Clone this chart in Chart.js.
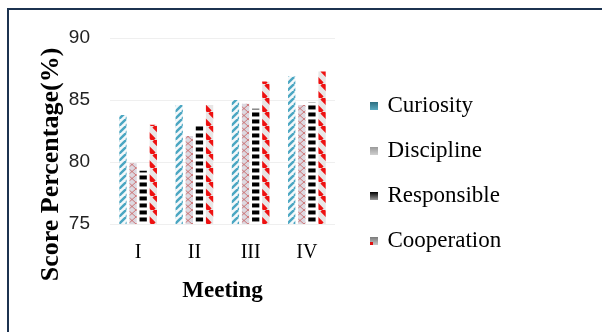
<!DOCTYPE html>
<html>
<head>
<meta charset="utf-8">
<script src="https://cdn.jsdelivr.net/npm/chart.js"></script>
<style>
  body { margin: 0; background: #fff; }
  #wrap { position: relative; width: 602px; height: 332px; overflow: hidden; }
  #frame { position: absolute; left: 7px; top: 8px; width: 620px; height: 340px;
           border-top: 2px solid #1c3350; border-left: 2px solid #1c3350; }
  #chart { position: absolute; left: 0; top: 0; }
</style>
</head>
<body>
<div id="wrap">
  <div id="frame"></div>
  <canvas id="chart" width="602" height="332"></canvas>
</div>
<script>
const categories = ['I', 'II', 'III', 'IV'];
const curiosity = [83.8, 84.6, 85.0, 86.9];
const discipline = [79.9, 82.1, 84.7, 84.6];
const responsible = [79.3, 82.9, 84.3, 84.8];
const cooperation = [83.0, 84.6, 86.5, 87.3];
const yTicks = [75, 80, 85, 90];

Chart.defaults.font.family = '"Liberation Serif", "Times New Roman", serif';

// little tiles used as bar fills
function tile(w, h, draw) {
  const c = document.createElement('canvas');
  c.width = w; c.height = h;
  draw(c.getContext('2d'), w, h);
  return c;
}
function pattern(c) {
  return document.createElement('canvas').getContext('2d').createPattern(c, 'repeat');
}

const curiosityFill = pattern(tile(7, 7, (g, w, h) => {
  g.fillStyle = '#f4f8fa'; g.fillRect(0, 0, w, h);
  g.strokeStyle = '#4aa6c2'; g.lineWidth = 2.4;
  for (let o = -w; o <= w; o += w) {
    g.beginPath(); g.moveTo(o, h); g.lineTo(o + w, 0); g.stroke();
  }
}));
const disciplineFill = pattern(tile(8, 14, (g, w, h) => {
  g.fillStyle = '#dcd8e0'; g.fillRect(0, 0, w, h);
  g.strokeStyle = 'rgba(200,80,80,0.7)'; g.lineWidth = 1;
  g.beginPath(); g.moveTo(0, 0); g.lineTo(w, h / 2); g.lineTo(0, h); g.stroke();
  g.beginPath(); g.moveTo(w, 0); g.lineTo(0, h / 2); g.lineTo(w, h); g.stroke();
}));
const responsibleFill = pattern(tile(2, 7, (g, w, h) => {
  g.fillStyle = '#ffffff'; g.fillRect(0, 0, w, h);
  g.fillStyle = '#7a7a7a'; g.fillRect(0, 0, w, 1);
  g.fillStyle = '#000000'; g.fillRect(0, 1, w, 3);
  g.fillStyle = '#8a8a8a'; g.fillRect(0, 4, w, 1);
}));
const cooperationFill = pattern(tile(14, 14, (g, w, h) => {
  g.fillStyle = '#e8e6e6'; g.fillRect(0, 0, w, h);
  g.strokeStyle = '#ee1111'; g.lineWidth = 4.5;
  for (let o = -w; o <= w; o += w) {
    g.beginPath(); g.moveTo(o, 0); g.lineTo(o + w, h); g.stroke();
  }
}));

function icon(top, bottom, corner) {
  return tile(8, 8, (g, w, h) => {
    const gr = g.createLinearGradient(0, 0, 0, h);
    gr.addColorStop(0, top); gr.addColorStop(1, bottom);
    g.fillStyle = gr; g.fillRect(0, 0, w, h);
    if (corner) { g.fillStyle = corner; g.fillRect(0, 5, 3, 3); }
  });
}

const yTitle = {
  id: 'yTitle',
  afterInit(chart) {
    // fixed legend width so the plot area lands where it should
    const lg = chart.legend, fit = lg.fit.bind(lg);
    lg.fit = function () { fit(); this.width = 200; };
  },
  afterDraw(chart) {
    const { ctx, chartArea } = chart;
    ctx.save();
    ctx.font = 'bold 26px "Liberation Serif"';
    ctx.fillStyle = '#000';
    ctx.textAlign = 'center';
    ctx.textBaseline = 'middle';
    ctx.translate(chartArea.left - 59, (chartArea.top + chartArea.bottom + 67) / 2);
    ctx.rotate(-Math.PI / 2);
    ctx.fillText('Score Percentage(%)', 0, 0);
    ctx.restore();
  }
};

new Chart(document.getElementById('chart').getContext('2d'), {
  type: 'bar',
  data: {
    labels: categories,
    datasets: [
      { label: 'Curiosity', data: curiosity, backgroundColor: curiosityFill, pointStyle: icon('#2d6e80', '#5aaac0') },
      { label: 'Discipline', data: discipline, backgroundColor: disciplineFill, pointStyle: icon('#9a9a9a', '#d0d0d0') },
      { label: 'Responsible', data: responsible, backgroundColor: responsibleFill, pointStyle: icon('#000000', '#9a9a9a') },
      { label: 'Cooperation', data: cooperation, backgroundColor: cooperationFill, pointStyle: icon('#7a7a7a', '#c8c8c8', '#e01010') }
    ]
  },
  options: {
    responsive: false,
    animation: false,
    layout: { padding: { left: 10, right: 52, top: 38, bottom: 23 } },
    datasets: { bar: { categoryPercentage: 0.72, barPercentage: 0.72, borderWidth: 0 } },
    scales: {
      x: {
        grid: { display: false, drawTicks: false },
        border: { display: false },
        ticks: { color: '#000', padding: 17, font: { family: 'Liberation Serif', size: 20 } },
        title: { display: true, text: 'Meeting', color: '#000', padding: { top: 12, bottom: 4 },
                 font: { family: 'Liberation Serif', size: 23, weight: 'bold' } },
        afterFit(s) { s.height = 85; }
      },
      y: {
        min: 75, max: 90,
        grid: { color: '#efefef', drawTicks: false },
        border: { display: false },
        afterBuildTicks(s) { s.ticks = yTicks.map(v => ({ value: v })); },
        ticks: { color: '#222', padding: 20, font: { family: 'Liberation Sans', size: 19 } },
        afterFit(s) { s.width = 100; }
      },
      pad: {
        position: 'right',
        display: true,
        grid: { display: false, drawTicks: false },
        border: { display: false },
        ticks: { display: false },
        afterFit(s) { s.width = 15; }
      }
    },
    plugins: {
      legend: {
        position: 'right',
        labels: {
          usePointStyle: true, boxWidth: 4, padding: 22, color: '#000',
          font: { family: 'Liberation Serif', size: 23 }
        }
      },
      tooltip: { enabled: false }
    }
  },
  plugins: [yTitle]
});
</script>
</body>
</html>
